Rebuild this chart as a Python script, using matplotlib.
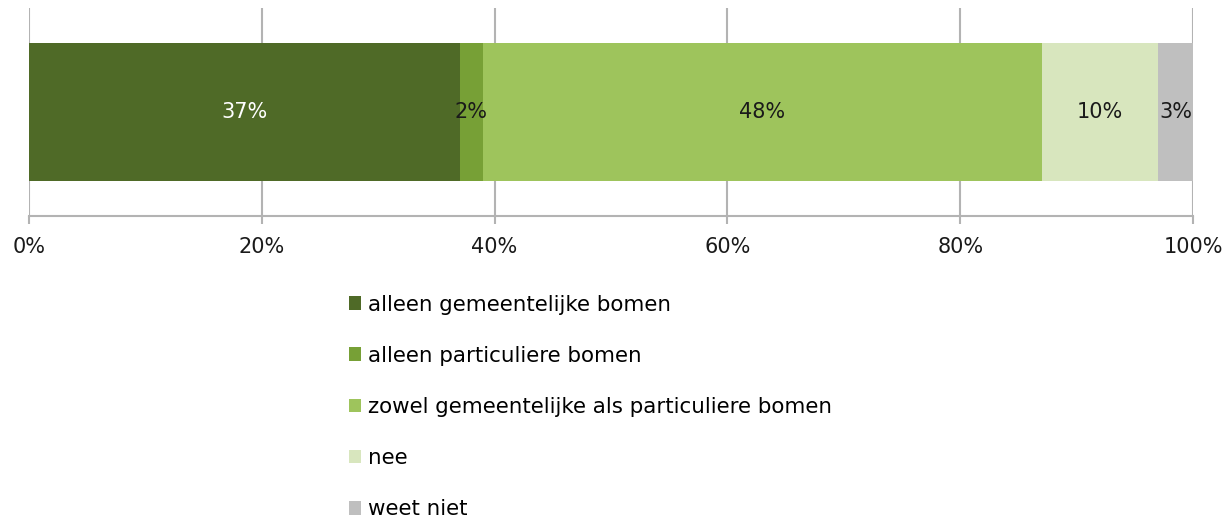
import matplotlib.pyplot as plt
from matplotlib.patches import Patch

# Data
categorieen = ['alleen gemeentelijke bomen', 'alleen particuliere bomen',
               'zowel gemeentelijke als particuliere bomen', 'nee', 'weet niet']
waarden = [37, 2, 48, 10, 3]
kleuren = ['#4F6A27', '#77A036', '#9EC45C', '#D8E6BE', '#BFBFBF']
label_kleuren = ['white', '#1a1a1a', '#1a1a1a', '#1a1a1a', '#1a1a1a']
ticks = [0, 20, 40, 60, 80, 100]

plt.rcParams['font.family'] = 'DejaVu Sans'
fig = plt.figure(figsize=(12.25, 5.19), dpi=100)
ax = fig.add_axes([29/1225, 1 - 216/519, 1164/1225, 208/519])

links = 0
for cat, w, c, lc in zip(categorieen, waarden, kleuren, label_kleuren):
    ax.barh(0, w, left=links, height=0.668, color=c, label=cat, zorder=2)
    ax.text(links + w / 2, 0, f'{w}%', ha='center', va='center',
            fontsize=15, color=lc, zorder=3)
    links += w

ax.set_xlim(0, 100)
ax.set_ylim(-0.5, 0.5)
ax.set_xticks(ticks)
ax.set_xticklabels([f'{t}%' for t in ticks], fontsize=15, color='#1a1a1a')
ax.set_yticks([])
ax.grid(axis='x', color='#B3B3B3', linewidth=1.5, zorder=0)
for s in ['top', 'right', 'left']:
    ax.spines[s].set_visible(False)
ax.spines['bottom'].set_color('#B3B3B3')
ax.spines['bottom'].set_linewidth(1.5)
ax.tick_params(axis='x', direction='out', length=6, width=1.5, color='#B3B3B3', pad=9)

handles = [Patch(facecolor=c, label=cat) for cat, c in zip(categorieen, kleuren)]
fig.legend(handles=handles, loc='upper left', bbox_to_anchor=(340/1225, 1 - 286/519),
           frameon=False, fontsize=15.4, handlelength=0.6, handleheight=0.6,
           handletextpad=0.3, labelspacing=1.46, borderaxespad=0)

fig.savefig('out.png', dpi=100)
